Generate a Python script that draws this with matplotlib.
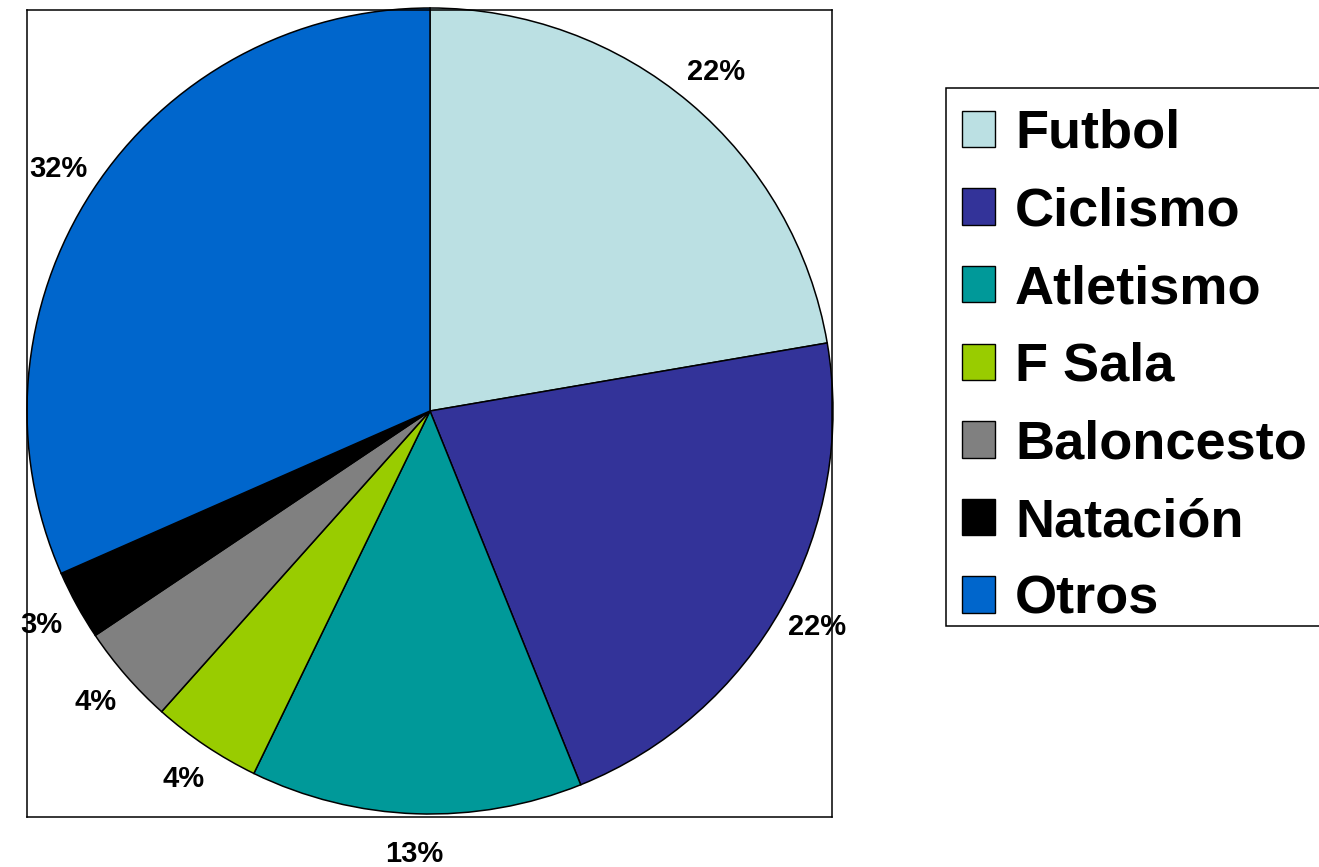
import matplotlib
matplotlib.use("Agg")
import matplotlib.pyplot as plt
from matplotlib.patches import Patch, Rectangle

categories = ["Futbol", "Ciclismo", "Atletismo", "F Sala", "Baloncesto", "Natación", "Otros"]
values = [22.3, 21.6, 13.3, 4.4, 4.0, 2.8, 31.6]
colors = ["#BBE0E3", "#333399", "#009999", "#99CC00", "#808080", "#000000", "#0066CC"]

W, H = 1319, 867
fig = plt.figure(figsize=(W / 100, H / 100), dpi=100)
plt.rcParams['font.family'] = ['Liberation Sans', 'DejaVu Sans']

x0, x1, ytop, ybot = 27, 832, 10, 817
ax = fig.add_axes([x0 / W, 1 - ybot / H, (x1 - x0) / W, (ybot - ytop) / H])

cx, cy, r = 430, H - 411, 403
wedges, texts, autotexts = ax.pie(
    values, colors=colors, startangle=90, counterclock=False,
    center=(cx, cy), radius=r, frame=True,
    autopct='%.0f%%', pctdistance=1.10,
    wedgeprops=dict(edgecolor="black", linewidth=1.1),
    textprops=dict(fontsize=21, fontweight='bold', color='black'))
for t in autotexts:
    t.set_color('black')
ax.set_xlim(x0, x1)
ax.set_ylim(H - ybot, H - ytop)
ax.set_aspect('auto')
ax.set_xticks([])
ax.set_yticks([])
for s in ax.spines.values():
    s.set_linewidth(1.1)
    s.set_color("black")

# legend frame box
lx0, ly0, lx1, ly1 = 946, 88, 1330, 626
fig.patches.append(Rectangle((lx0 / W, 1 - ly1 / H), (lx1 - lx0) / W, (ly1 - ly0) / H,
                             transform=fig.transFigure, facecolor='white',
                             edgecolor='black', linewidth=1.1, zorder=0))

handles = [Patch(facecolor=c, edgecolor='black', linewidth=1.0) for c in colors]
leg = fig.legend(handles, categories, loc='upper left',
                 bbox_to_anchor=(949 / W, 1 - 96 / H),
                 prop=dict(size=39, weight='bold'),
                 frameon=False,
                 handlelength=0.6, handleheight=0.66, handletextpad=0.38,
                 labelspacing=0.51, borderpad=0.24, borderaxespad=0)

fig.savefig("out.png", dpi=100)
